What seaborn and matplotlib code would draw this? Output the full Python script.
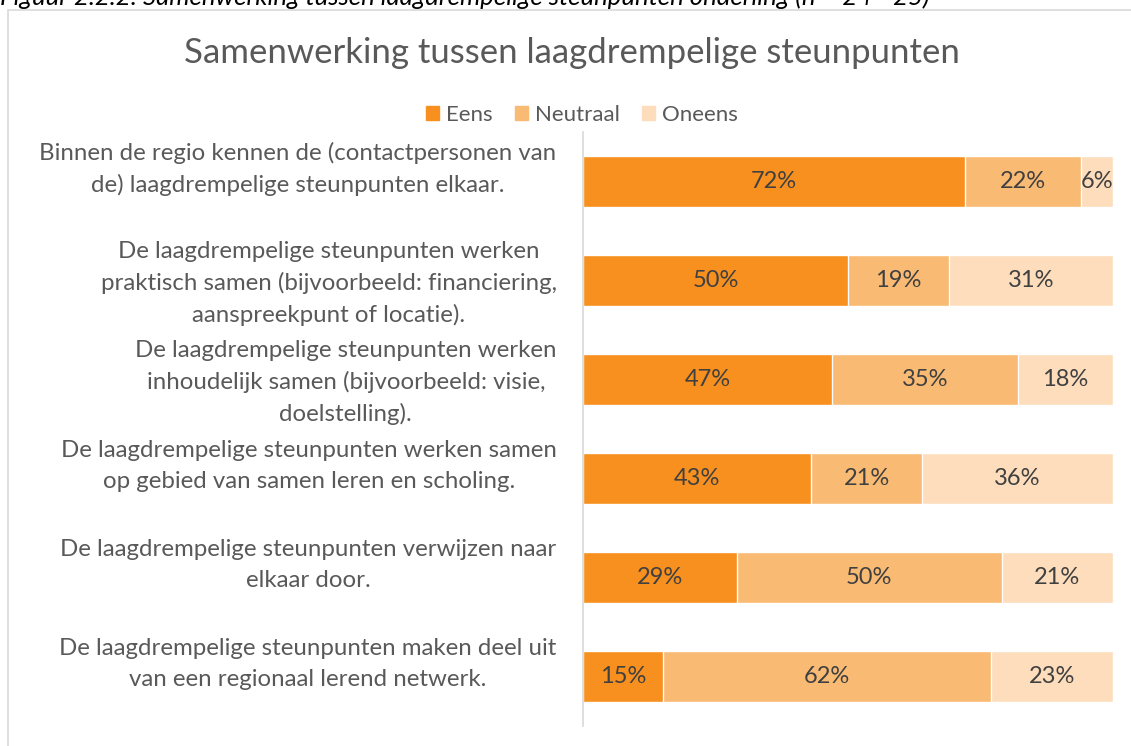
import matplotlib.pyplot as plt
import matplotlib.patches as mpatches
import matplotlib.transforms as mtransforms
import seaborn as sns
import pandas as pd

# Data
statements = [
    "Binnen de regio kennen de (contactpersonen van\nde) laagdrempelige steunpunten elkaar.",
    "De laagdrempelige steunpunten werken\npraktisch samen (bijvoorbeeld: financiering,\naanspreekpunt of locatie).",
    "De laagdrempelige steunpunten werken\ninhoudelijk samen (bijvoorbeeld: visie,\ndoelstelling).",
    "De laagdrempelige steunpunten werken samen\nop gebied van samen leren en scholing.",
    "De laagdrempelige steunpunten verwijzen naar\nelkaar door.",
    "De laagdrempelige steunpunten maken deel uit\nvan een regionaal lerend netwerk.",
]
eens = [72, 50, 47, 43, 29, 15]
neutraal = [22, 19, 35, 21, 50, 62]
oneens = [6, 31, 18, 36, 21, 23]

series = ["Eens", "Neutraal", "Oneens"]
colors = {"Eens": "#F7901E", "Neutraal": "#F9BA74", "Oneens": "#FDDDBB"}
text_color = "#595959"

sns.set_theme(style="white")
plt.rcParams['font.family'] = ['Lato', 'DejaVu Sans']

df = pd.DataFrame({"statement": statements, "Eens": eens,
                   "Neutraal": neutraal, "Oneens": oneens})
df["cum_n"] = df["Eens"] + df["Neutraal"]
df["cum_o"] = df["cum_n"] + df["Oneens"]

fig = plt.figure(figsize=(11.31, 7.46), dpi=100)
ax = fig.add_axes([583 / 1131, 1 - 726 / 746, 530 / 1131, 594 / 746])

# stacked bars drawn as overlapping cumulative bars
for col, name in [("cum_o", "Oneens"), ("cum_n", "Neutraal"), ("Eens", "Eens")]:
    sns.barplot(data=df, x=col, y="statement", color=colors[name],
                width=0.515, saturation=1, ax=ax, orient="h")

# value labels in the middle of each segment
for i, row in df.iterrows():
    starts = [0, row["Eens"], row["cum_n"]]
    for s, name in zip(starts, series):
        v = row[name]
        ax.text(s + v / 2, i, f"{v}%", ha="center", va="center",
                fontsize=17, color="#404040")

ax.set_xlim(0, 100)
ax.set_ylim(5.5, -0.5)
ax.set_xlabel("")
ax.set_ylabel("")
ax.set_xticks([])
ax.set_yticks(range(len(statements)))
# two-line labels sit half a line high in the original, like a 3-line block
tick_labels = [s if s.count("\n") >= 2 else s + "\n" for s in statements]
ax.set_yticklabels(tick_labels, fontsize=17.3, color=text_color,
                   ha="right", multialignment="center", linespacing=1.56)
ax.tick_params(axis="y", length=0, pad=19)
shift = mtransforms.ScaledTranslation(0, 4 / 100, fig.dpi_scale_trans)
for lbl in ax.get_yticklabels():
    lbl.set_transform(lbl.get_transform() + shift)
for side in ["top", "right", "bottom"]:
    ax.spines[side].set_visible(False)
ax.spines["left"].set_color("#d9d9d9")
ax.spines["left"].set_linewidth(1.2)

# title, legend, chart border, cut-off caption
fig.text(0.5 + 6 / 1131, 1 - 53 / 746, "Samenwerking tussen laagdrempelige steunpunten",
         ha="center", va="center", fontsize=25, color=text_color)
handles = [mpatches.Patch(color=colors[s], label=s) for s in series]
fig.legend(handles=handles, loc="center", bbox_to_anchor=(582 / 1131, 1 - 115 / 746),
           ncol=3, frameon=False, fontsize=16, handlelength=0.6,
           handleheight=0.6, handletextpad=0.3, columnspacing=1.0,
           labelcolor=text_color)
fig.patches.append(mpatches.Rectangle((8 / 1131, -0.1), 1.2, 1 - 10 / 746 + 0.1,
                                      transform=fig.transFigure, fill=False,
                                      edgecolor="#d9d9d9", linewidth=1.2))
fig.text(0.0, 1 - 5 / 746,
         "Figuur 2.2.2: Samenwerking tussen laagdrempelige steunpunten onderling (n = 24 - 25)",
         ha="left", va="baseline", fontsize=18.5, style="italic", color="black")

fig.savefig("out.png", dpi=100)
